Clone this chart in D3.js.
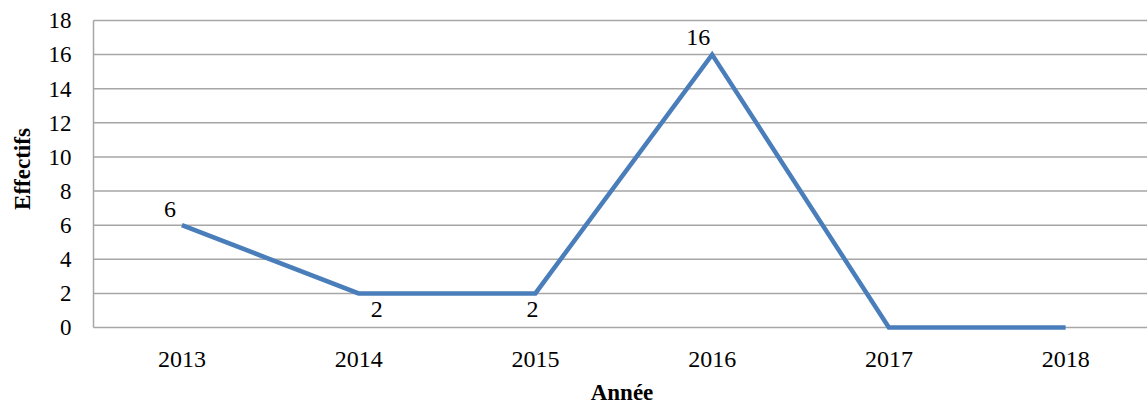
<!DOCTYPE html>
<html><head><meta charset="utf-8">
<script src="https://cdn.jsdelivr.net/npm/d3@7"></script>
<style>body{margin:0;background:#fff}svg{display:block}</style>
</head><body>
<script>
const years = ["2013","2014","2015","2016","2017","2018"];
const effectifs = [6, 2, 2, 16, 0, 0];
const yTicks = [0,2,4,6,8,10,12,14,16,18];
const labelled = [true, true, true, true, false, false];
const labelOffsets = [[-12,-8],[18,24],[-3,24],[-14,-10],[0,0],[0,0]];

const W = 1147, H = 407;
const svg = d3.select("body").append("svg").attr("width", W).attr("height", H);
const x = d3.scaleBand().domain(years).range([93.5, 1154]);
const y = d3.scaleLinear().domain([0, 18]).range([327.5, 20.5]);
const font = "'Liberation Serif', 'Times New Roman', serif";

// grid
svg.append("g").selectAll("line").data(yTicks).join("line")
  .attr("x1", 93.5).attr("x2", W).attr("y1", d => y(d)).attr("y2", d => y(d))
  .attr("stroke", "#a6a6a6").attr("stroke-width", 1.5);
svg.append("line").attr("x1", 93.5).attr("x2", 93.5).attr("y1", y(18)).attr("y2", y(0))
  .attr("stroke", "#a6a6a6").attr("stroke-width", 1.5);

// y axis
const ya = svg.append("g").attr("transform", "translate(93.5,0)")
  .call(d3.axisLeft(y).tickValues(yTicks).tickSize(0).tickPadding(22));
ya.select(".domain").remove();
ya.selectAll("text").attr("font-family", font).attr("font-size", 23).attr("fill", "#000");

// x axis
const xa = svg.append("g").attr("transform", "translate(0,327.5)")
  .call(d3.axisBottom(x).tickSize(0).tickPadding(22));
xa.select(".domain").remove();
xa.selectAll("text").attr("font-family", font).attr("font-size", 24).attr("fill", "#000");

// line
const line = d3.line().x((d,i) => x(years[i]) + x.bandwidth()/2).y(d => y(d));
svg.append("path").datum(effectifs).attr("d", line)
  .attr("fill", "none").attr("stroke", "#4a7ebb").attr("stroke-width", 4.5)
  .attr("stroke-linejoin", "miter");

// data labels
svg.append("g").selectAll("text").data(effectifs.map((v,i) => ({v,i})).filter(d => labelled[d.i])).join("text")
  .attr("x", d => x(years[d.i]) + x.bandwidth()/2 + labelOffsets[d.i][0])
  .attr("y", d => y(d.v) + labelOffsets[d.i][1])
  .attr("text-anchor", "middle")
  .attr("font-family", font).attr("font-size", 24).attr("fill", "#000")
  .text(d => d.v);

// titles
svg.append("text").attr("x", 622).attr("y", 400).attr("text-anchor", "middle")
  .attr("font-family", font).attr("font-weight", "bold").attr("font-size", 23).text("Année");
svg.append("text").attr("transform", "translate(30,169) rotate(-90)").attr("text-anchor", "middle")
  .attr("font-family", font).attr("font-weight", "bold").attr("font-size", 23).text("Effectifs");
</script>
</body></html>
